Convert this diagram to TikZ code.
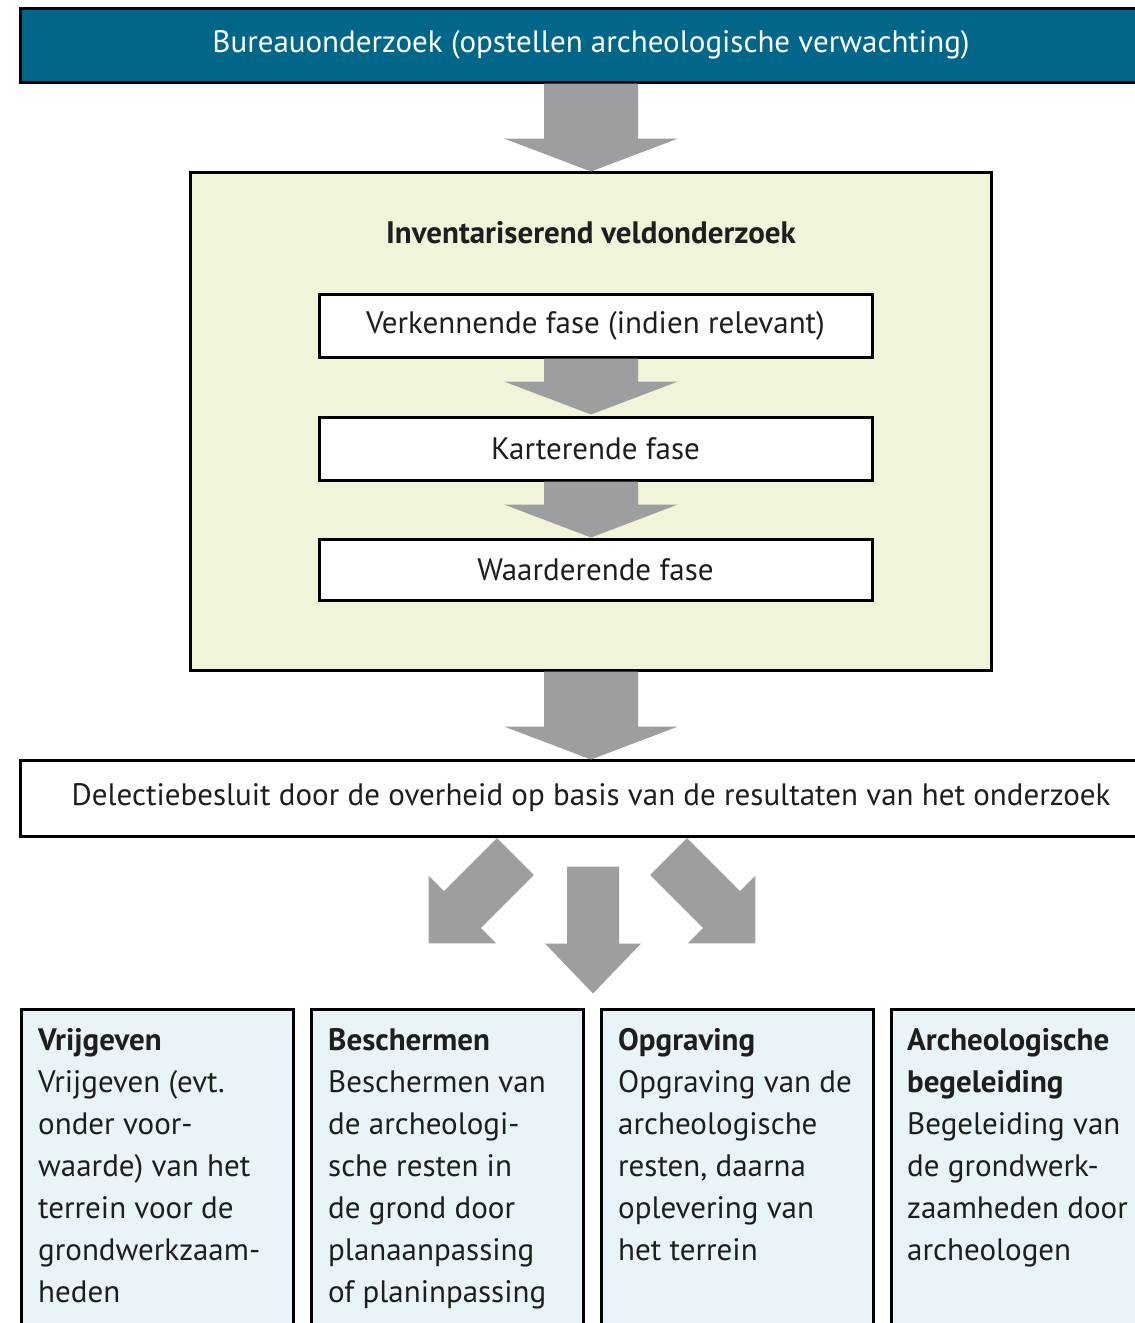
\documentclass[tikz,border=0pt]{standalone}
\usepackage{fontspec}
\setmainfont{PT Sans}
\usetikzlibrary{calc}
\definecolor{barblue}{HTML}{00678A}
\definecolor{invyellow}{HTML}{F2F4DA}
\definecolor{optblue}{HTML}{E8F4F7}
\definecolor{arrowgray}{HTML}{9D9EA0}
\definecolor{txt}{HTML}{1E1E1E}
\newcommand\graydarrow[6]{%
  \begin{scope}[shift={#1},rotate=#2]
    \fill[arrowgray] (-#3,0) -- (#3,0) -- (#3,#4) -- (#5,#4) -- (0,#4+#6) -- (-#5,#4) -- (-#3,#4) -- cycle;
  \end{scope}}
\tikzset{
  fullbar/.style={draw=black, line width=3pt, minimum width=1142pt, inner sep=0pt, text=txt},
  phasebox/.style={draw=black, line width=3pt, fill=white, minimum width=553pt, inner sep=0pt, text=txt},
  optbox/.style={draw=black, line width=3pt, fill=optblue, minimum width=272pt, minimum height=400pt, inner sep=0pt, anchor=north west},
  opttext/.style={anchor=north west, inner sep=0pt, align=left, text=txt, font=\fontsize{31}{42}\selectfont},
  mainfont/.style={font=\fontsize{31}{36}\selectfont}
}
\begin{document}
\begin{tikzpicture}[x=1pt,y=-1pt]
\useasboundingbox (0,0) rectangle (1135,1323);
\clip (0,0) rectangle (1135,1323);
\fill[white] (0,0) rectangle (1135,1323);

\node[fullbar, fill=barblue, minimum height=74pt, text=white, mainfont] (bureau) at (591,45) {Bureauonderzoek (opstellen archeologische verwachting)};

\node[draw=black, line width=3pt, fill=invyellow, minimum width=801pt, minimum height=498pt, inner sep=0pt] (inv) at (591,421) {};
\node[text=txt, font=\fontsize{31}{36}\selectfont\bfseries] (invtitle) at (591,233) {Inventariserend veldonderzoek};

\node[phasebox, minimum height=63pt, mainfont] (verk) at (595.5,325.5) {Verkennende fase (indien relevant)};
\node[phasebox, minimum height=63pt, mainfont] (kart) at (595.5,448.5) {Karterende fase};
\node[phasebox, minimum height=61pt, mainfont] (waard) at (595.5,569.5) {Waarderende fase};

\node[fullbar, fill=white, minimum height=76pt, mainfont] (delectie) at (591,798) {Delectiebesluit door de overheid op basis van de resultaten van het onderzoek};

% block arrows
\graydarrow{(bureau.south)}{0}{47}{55}{87}{33}
\graydarrow{($(verk.south -| inv.north)$)}{0}{47}{23}{87}{33}
\graydarrow{($(kart.south -| inv.north)$)}{0}{47}{23}{87}{33}
\graydarrow{(inv.south)}{0}{47}{55}{87}{33}
\graydarrow{($(delectie.south)+(-75.5,19)$)}{-45}{26}{75}{48}{48}
\graydarrow{($(delectie.south)+(2,29)$)}{0}{26}{77}{48}{50}
\graydarrow{($(delectie.south)+(77.5,19)$)}{45}{26}{75}{48}{48}

% bottom options
\node[optbox] (vrij) at (20,1008) {};
\node[optbox] (besch) at (310,1008) {};
\node[optbox] (opgr) at (600,1008) {};
\node[optbox] (begel) at (890,1008) {};

\node[opttext] (vrijtext) at ($(vrij.north west)+(18,20)$) {\textbf{Vrijgeven}\\Vrijgeven (evt.\\onder voor-\\waarde) van het\\terrein voor de\\grondwerkzaam-\\heden};
\node[opttext] (beschtext) at ($(besch.north west)+(18,20)$) {\textbf{Beschermen}\\Beschermen van\\de archeologi-\\sche resten in\\de grond door\\planaanpassing\\of planinpassing};
\node[opttext] (opgrtext) at ($(opgr.north west)+(18,20)$) {\textbf{Opgraving}\\Opgraving van de\\archeologische\\resten, daarna\\oplevering van\\het terrein};
\node[opttext] (begeltext) at ($(begel.north west)+(17,20)$) {\textbf{Archeologische}\\\textbf{begeleiding}\\Begeleiding van\\de grondwerk-\\zaamheden door\\archeologen};
\end{tikzpicture}
\end{document}
